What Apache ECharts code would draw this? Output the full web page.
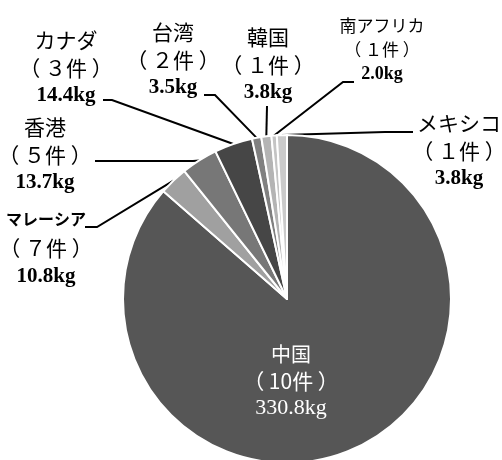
<!DOCTYPE html>
<html><head><meta charset="utf-8">
<script src="https://cdn.jsdelivr.net/npm/echarts@6/dist/echarts.min.js"></script>
<style>html,body{margin:0;padding:0;background:#fff}#c{width:502px;height:460px}</style>
</head><body><div id="c"></div>
<script>
const names = ['中国','マレーシア','香港','カナダ','台湾','韓国','南アフリカ','メキシコ'];
const weights = [330.8, 10.8, 13.7, 14.4, 3.5, 3.8, 2.0, 3.8];
const counts = [10, 7, 5, 3, 2, 1, 1, 1];

const colors = ['#565656','#a0a0a0','#777777','#464646','#808080','#b4b4b4','#c4c4c4','#cacaca'];
// label placement (layout config): centre of text block, leader-line elbow & end
const labelPlace = [
  {x: 291, y: 381},
  {x: 46, y: 248, pts: [[97, 227], [85, 227]]},
  {x: 45, y: 155, pts: [[193, 161], [95, 161]]},
  {x: 66, y: 68, pts: [[112, 100], [103, 100]]},
  {x: 173, y: 60, pts: [[215, 95], [204, 95]]},
  {x: 268, y: 65, pts: [[267, 106]]},
  {x: 382, y: 50, pts: [[343, 82], [354, 82]]},
  {x: 459, y: 151, pts: [[385, 132], [413, 132]]}
];

function fw(n) {
  const s = String(n);
  return s.length === 1 ? String.fromCharCode(0xFF10 + n) : s;
}

const CJK = 'Noto Sans CJK JP';
const SERIF = 'Liberation Serif';
function richSet(nameSize, cntSize, kgSize, lh, color, kgWeight, nameWeight) {
  return {
    n: {fontFamily: CJK, fontSize: nameSize, fontWeight: nameWeight || 'normal', lineHeight: lh, color: color},
    c: {fontFamily: CJK, fontSize: cntSize, lineHeight: lh, color: color},
    k: {fontFamily: SERIF, fontWeight: kgWeight, fontSize: kgSize, lineHeight: lh, color: color}
  };
}

const data = names.map((n, i) => {
  const item = {
    name: n, value: weights[i], cnt: counts[i],
    itemStyle: {color: colors[i]}
  };
  if (i === 0) {
    item.label = {position: 'inside', color: '#fff', rich: richSet(20, 21, 22, 27, '#fff', 'normal')};
    item.labelLine = {show: false};
  }
  if (i === 1) {
    item.label = {rich: richSet(16, 21, 21, 29, '#000', 'bold', 'bold')};
  }
  if (i === 6) {
    item.label = {rich: richSet(17, 17, 18, 24, '#000', 'bold')};
  }
  return item;
});

const chart = echarts.init(document.getElementById('c'), null, {renderer: 'canvas'});
chart.setOption({
  animation: false,
  series: [{
    type: 'pie',
    center: [287, 299],
    radius: 164,
    startAngle: 90,
    clockwise: true,
    avoidLabelOverlap: false,
    data: data,
    itemStyle: {borderColor: '#fff', borderWidth: 2},
    label: {
      show: true,
      position: 'outside',
      align: 'center',
      formatter: p => '{n|' + p.name + '}\n{c|（ ' + fw(p.data.cnt) + '件 ）}\n{k|' + p.value.toFixed(1) + 'kg}',
      rich: richSet(21, 21, 21, 28, '#000', 'bold')
    },
    labelLine: {show: true, length: 20, length2: 10, lineStyle: {color: '#000', width: 2}},
    labelLayout: function (params) {
      const pl = labelPlace[params.dataIndex];
      const res = {x: pl.x, y: pl.y, align: 'center', verticalAlign: 'middle'};
      if (pl.pts && params.labelLinePoints) {
        res.labelLinePoints = [params.labelLinePoints[0]].concat(pl.pts);
      }
      return res;
    }
  }]
});
</script></body></html>
